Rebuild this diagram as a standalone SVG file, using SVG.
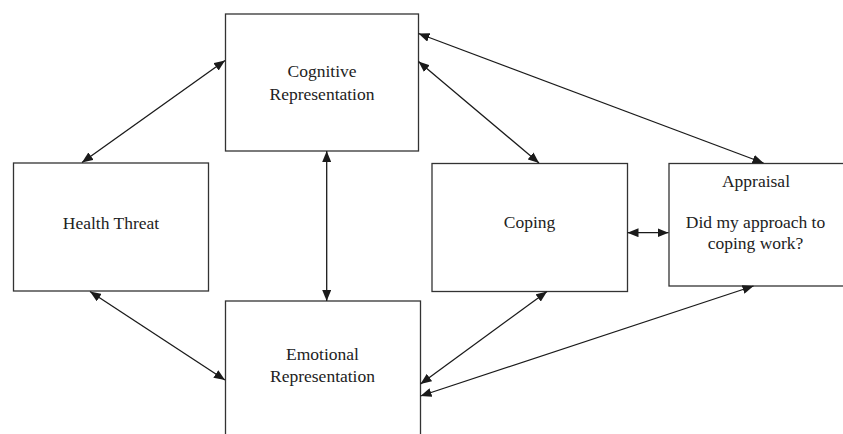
<svg xmlns="http://www.w3.org/2000/svg" width="843" height="434" viewBox="0 0 843 434">
<defs>
<style>
.box{fill:#fff;stroke:#333;stroke-width:1.3}
.lbl{font-family:"Liberation Serif","Times New Roman",serif;font-size:17.5px;fill:#222;text-anchor:middle}
.con{stroke:#1a1a1a;stroke-width:1.3;fill:none;marker-start:url(#ah);marker-end:url(#ah)}
</style>
<marker id="ah" markerUnits="userSpaceOnUse" markerWidth="11" markerHeight="9" refX="11" refY="4.5" orient="auto-start-reverse">
<path d="M0,0 L11,4.5 L0,9 z" fill="#1a1a1a"/>
</marker>
</defs>
<rect width="843" height="434" fill="#fff"/>
<g id="cognitive">
<rect class="box" x="225.5" y="14" width="193" height="137"/>
<text class="lbl" x="322" y="77">Cognitive</text>
<text class="lbl" x="322" y="99.5">Representation</text>
</g>
<g id="health-threat">
<rect class="box" x="13.5" y="163" width="195" height="128"/>
<text class="lbl" x="111" y="228.5">Health Threat</text>
</g>
<g id="emotional">
<rect class="box" x="225.5" y="301" width="195" height="145"/>
<text class="lbl" x="322.5" y="359.5">Emotional</text>
<text class="lbl" x="322.5" y="382">Representation</text>
</g>
<g id="coping">
<rect class="box" x="432" y="163.5" width="195.5" height="128"/>
<text class="lbl" x="529.5" y="228">Coping</text>
</g>
<g id="appraisal">
<rect class="box" x="669" y="163.5" width="180" height="122.5"/>
<text class="lbl" x="756" y="187">Appraisal</text>
<text class="lbl" x="755.5" y="228">Did my approach to</text>
<text class="lbl" x="755.5" y="248.5">coping work?</text>
</g>
<g id="connectors">
<line class="con" x1="225" y1="60.5" x2="82" y2="162.5"/>
<line class="con" x1="326.7" y1="151" x2="326.7" y2="301"/>
<line class="con" x1="90" y1="291.5" x2="225" y2="380"/>
<line class="con" x1="418.5" y1="61.5" x2="539" y2="163"/>
<line class="con" x1="418.5" y1="33.5" x2="763.5" y2="163"/>
<line class="con" x1="627.5" y1="232.7" x2="668.5" y2="232.7"/>
<line class="con" x1="547" y1="291.5" x2="420.5" y2="384"/>
<line class="con" x1="753.5" y1="286" x2="420.5" y2="396"/>
</g>
</svg>
